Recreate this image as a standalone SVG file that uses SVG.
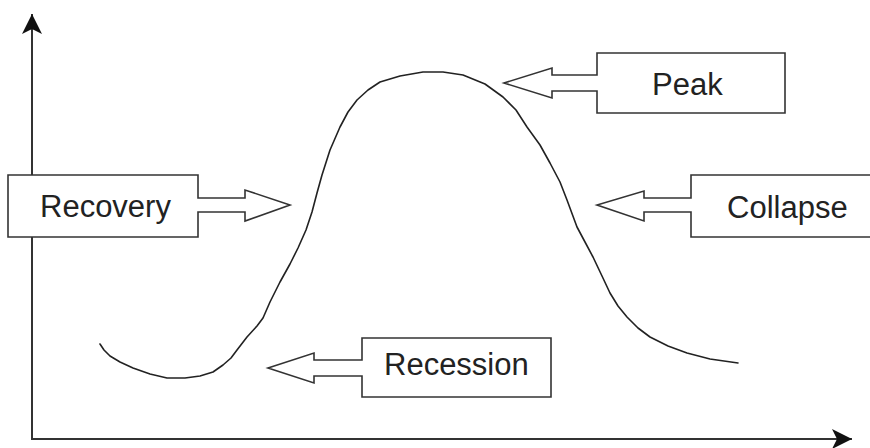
<svg xmlns="http://www.w3.org/2000/svg" width="870" height="448" viewBox="0 0 870 448">
<defs>
<style>
.ax{stroke:#333;stroke-width:2;fill:none}
.nd{fill:#fff;stroke:#333;stroke-width:1.6;stroke-linejoin:miter}
.lb{font-family:"Liberation Sans",Arial,sans-serif;font-size:31px;fill:#222}
.cv{fill:none;stroke:#222;stroke-width:1.6;stroke-linejoin:round;stroke-linecap:round}
</style>
<marker id="ah" markerUnits="userSpaceOnUse" markerWidth="24" markerHeight="24" viewBox="0 0 24 24" refX="20" refY="12" orient="auto">
<path d="M0,2 L20,12 L0,22 L5,12 Z" fill="#111"/>
</marker>
</defs>
<rect width="870" height="448" fill="#fff"/>
<g id="connectors">
<line class="ax" x1="32" y1="439" x2="32" y2="14" marker-end="url(#ah)"/>
<line class="ax" x1="31" y1="439" x2="852" y2="439" marker-end="url(#ah)"/>
<polyline class="cv" points="100,344 104,350 110,356 120,362 133,368 150,374 167,378 185,378 200,376 213,372 223,365 231,358 237,350 247,337 257,326 263,318 270,302 280,282 290,264 298,248 306,230 312,212 317,193 322,175 330,150 340,127 348,112 357,100 368,90 380,82 400,76 423,72 443,72 463,75 485,84 503,97 516,110 527,127 540,145 550,163 560,182 567,200 577,227 585,242 593,257 602,276 610,293 618,306 627,317 638,328 650,337 668,346 687,353 710,359 738,363"/>
</g>
<g id="recovery">
<path class="nd" d="M8,175 H198 V198 H245 V190 L290,205 L245,221 V212 H198 V237 H8 Z"/>
<text class="lb" x="40" y="217">Recovery</text>
</g>
<g id="peak">
<path class="nd" d="M597,53 H785 V113 H597 V91 H552 V98 L504,83 L552,68 V75 H597 Z"/>
<text class="lb" x="652" y="95">Peak</text>
</g>
<g id="collapse">
<path class="nd" d="M880,175 H691 V198 H644 V191 L597,205 L644,221 V212 H691 V237 H880"/>
<text class="lb" x="727" y="218">Collapse</text>
</g>
<g id="recession">
<path class="nd" d="M362,338 H551 V397 H362 V376 H314 V383 L268,368 L314,353 V360 H362 Z"/>
<text class="lb" x="384" y="375">Recession</text>
</g>
</svg>
